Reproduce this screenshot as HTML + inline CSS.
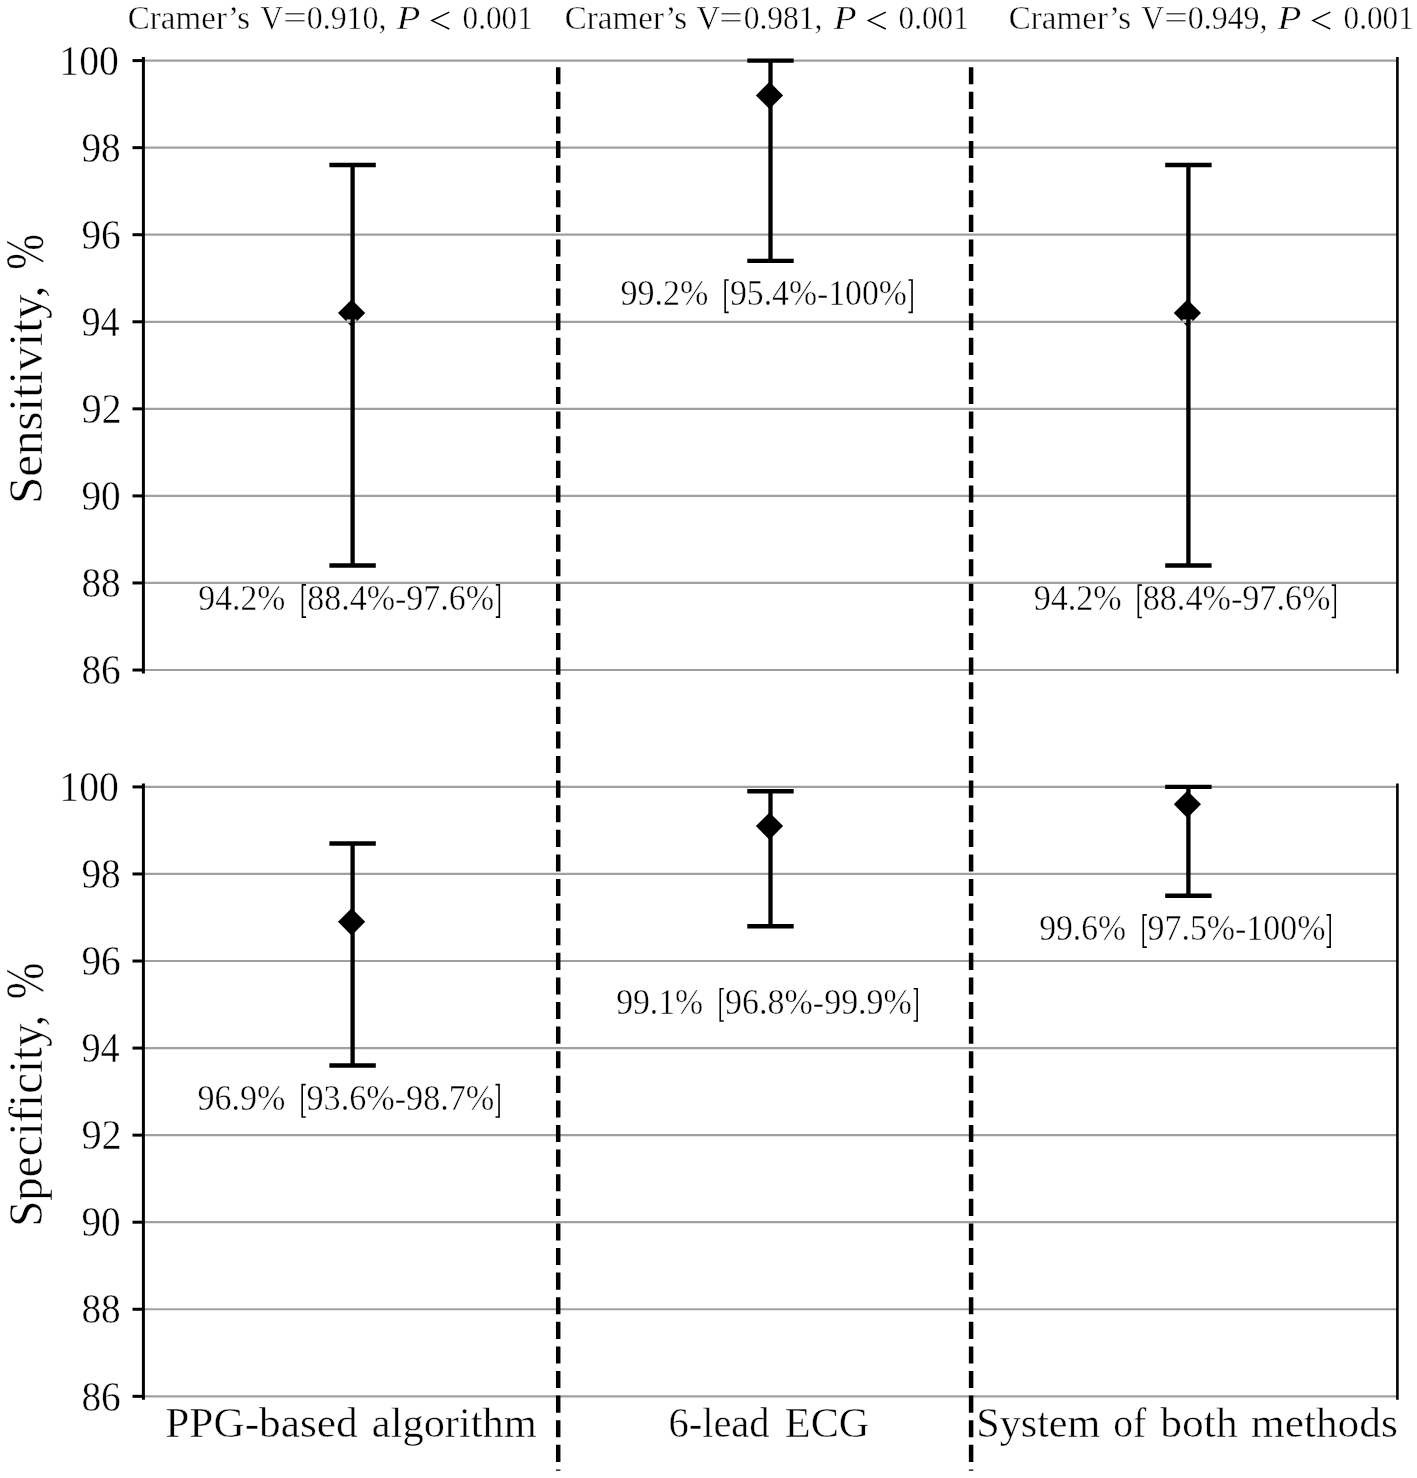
<!DOCTYPE html>
<html><head><meta charset="utf-8"><title>Chart</title>
<style>html,body{margin:0;padding:0;background:#fff;width:1417px;height:1478px;overflow:hidden}svg{display:block;will-change:transform}</style>
</head><body>
<svg width="1417" height="1478" viewBox="0 0 1417 1478">
<rect width="1417" height="1478" fill="#fff"/>
<path d="M338.00,313.07 L351.60,299.47 L365.20,313.07 L351.60,326.67 Z" fill="#000"/><path d="M755.90,95.42 L769.50,81.82 L783.10,95.42 L769.50,109.02 Z" fill="#000"/><path d="M1173.80,313.07 L1187.40,299.47 L1201.00,313.07 L1187.40,326.67 Z" fill="#000"/><path d="M338.00,921.84 L351.60,908.24 L365.20,921.84 L351.60,935.44 Z" fill="#000"/><path d="M755.90,826.08 L769.50,812.48 L783.10,826.08 L769.50,839.68 Z" fill="#000"/><path d="M1173.80,804.31 L1187.40,790.71 L1201.00,804.31 L1187.40,817.91 Z" fill="#000"/>
<line x1="346.71" y1="320.78" x2="356.49" y2="320.78" stroke="#fff" stroke-width="2.6" /><line x1="1182.51" y1="320.78" x2="1192.29" y2="320.78" stroke="#fff" stroke-width="2.6" />
<line x1="143.40" y1="670.02" x2="1397.40" y2="670.02" stroke="#a0a0a0" stroke-width="2.2" /><line x1="143.40" y1="582.96" x2="1397.40" y2="582.96" stroke="#a0a0a0" stroke-width="2.2" /><line x1="143.40" y1="495.90" x2="1397.40" y2="495.90" stroke="#a0a0a0" stroke-width="2.2" /><line x1="143.40" y1="408.84" x2="1397.40" y2="408.84" stroke="#a0a0a0" stroke-width="2.2" /><line x1="143.40" y1="321.78" x2="1397.40" y2="321.78" stroke="#a0a0a0" stroke-width="2.2" /><line x1="143.40" y1="234.72" x2="1397.40" y2="234.72" stroke="#a0a0a0" stroke-width="2.2" /><line x1="143.40" y1="147.66" x2="1397.40" y2="147.66" stroke="#a0a0a0" stroke-width="2.2" /><line x1="143.40" y1="60.60" x2="1397.40" y2="60.60" stroke="#a0a0a0" stroke-width="2.2" /><line x1="143.40" y1="1396.32" x2="1397.40" y2="1396.32" stroke="#a0a0a0" stroke-width="2.2" /><line x1="143.40" y1="1309.26" x2="1397.40" y2="1309.26" stroke="#a0a0a0" stroke-width="2.2" /><line x1="143.40" y1="1222.20" x2="1397.40" y2="1222.20" stroke="#a0a0a0" stroke-width="2.2" /><line x1="143.40" y1="1135.14" x2="1397.40" y2="1135.14" stroke="#a0a0a0" stroke-width="2.2" /><line x1="143.40" y1="1048.08" x2="1397.40" y2="1048.08" stroke="#a0a0a0" stroke-width="2.2" /><line x1="143.40" y1="961.02" x2="1397.40" y2="961.02" stroke="#a0a0a0" stroke-width="2.2" /><line x1="143.40" y1="873.96" x2="1397.40" y2="873.96" stroke="#a0a0a0" stroke-width="2.2" /><line x1="143.40" y1="786.90" x2="1397.40" y2="786.90" stroke="#a0a0a0" stroke-width="2.2" />
<line x1="352.60" y1="165.07" x2="352.60" y2="565.55" stroke="#000" stroke-width="4.3" /><line x1="329.40" y1="165.07" x2="375.80" y2="165.07" stroke="#000" stroke-width="4.4" /><line x1="329.40" y1="565.55" x2="375.80" y2="565.55" stroke="#000" stroke-width="4.4" /><line x1="770.50" y1="60.60" x2="770.50" y2="260.84" stroke="#000" stroke-width="4.3" /><line x1="747.30" y1="60.60" x2="793.70" y2="60.60" stroke="#000" stroke-width="4.4" /><line x1="747.30" y1="260.84" x2="793.70" y2="260.84" stroke="#000" stroke-width="4.4" /><line x1="1188.40" y1="165.07" x2="1188.40" y2="565.55" stroke="#000" stroke-width="4.3" /><line x1="1165.20" y1="165.07" x2="1211.60" y2="165.07" stroke="#000" stroke-width="4.4" /><line x1="1165.20" y1="565.55" x2="1211.60" y2="565.55" stroke="#000" stroke-width="4.4" /><line x1="352.60" y1="843.49" x2="352.60" y2="1065.49" stroke="#000" stroke-width="4.3" /><line x1="329.40" y1="843.49" x2="375.80" y2="843.49" stroke="#000" stroke-width="4.4" /><line x1="329.40" y1="1065.49" x2="375.80" y2="1065.49" stroke="#000" stroke-width="4.4" /><line x1="770.50" y1="791.25" x2="770.50" y2="926.20" stroke="#000" stroke-width="4.3" /><line x1="747.30" y1="791.25" x2="793.70" y2="791.25" stroke="#000" stroke-width="4.4" /><line x1="747.30" y1="926.20" x2="793.70" y2="926.20" stroke="#000" stroke-width="4.4" /><line x1="1188.40" y1="786.90" x2="1188.40" y2="895.73" stroke="#000" stroke-width="4.3" /><line x1="1165.20" y1="786.90" x2="1211.60" y2="786.90" stroke="#000" stroke-width="4.4" /><line x1="1165.20" y1="895.73" x2="1211.60" y2="895.73" stroke="#000" stroke-width="4.4" />
<line x1="143.40" y1="57.00" x2="143.40" y2="673.60" stroke="#000" stroke-width="3" /><line x1="1397.40" y1="57.00" x2="1397.40" y2="673.60" stroke="#000" stroke-width="2.6" /><line x1="143.40" y1="783.40" x2="143.40" y2="1399.70" stroke="#000" stroke-width="3" /><line x1="1397.40" y1="783.40" x2="1397.40" y2="1399.70" stroke="#000" stroke-width="2.6" /><line x1="132.50" y1="670.02" x2="143.40" y2="670.02" stroke="#000" stroke-width="3" /><line x1="132.50" y1="582.96" x2="143.40" y2="582.96" stroke="#000" stroke-width="3" /><line x1="132.50" y1="495.90" x2="143.40" y2="495.90" stroke="#000" stroke-width="3" /><line x1="132.50" y1="408.84" x2="143.40" y2="408.84" stroke="#000" stroke-width="3" /><line x1="132.50" y1="321.78" x2="143.40" y2="321.78" stroke="#000" stroke-width="3" /><line x1="132.50" y1="234.72" x2="143.40" y2="234.72" stroke="#000" stroke-width="3" /><line x1="132.50" y1="147.66" x2="143.40" y2="147.66" stroke="#000" stroke-width="3" /><line x1="132.50" y1="60.60" x2="143.40" y2="60.60" stroke="#000" stroke-width="3" /><line x1="132.50" y1="1396.32" x2="143.40" y2="1396.32" stroke="#000" stroke-width="3" /><line x1="132.50" y1="1309.26" x2="143.40" y2="1309.26" stroke="#000" stroke-width="3" /><line x1="132.50" y1="1222.20" x2="143.40" y2="1222.20" stroke="#000" stroke-width="3" /><line x1="132.50" y1="1135.14" x2="143.40" y2="1135.14" stroke="#000" stroke-width="3" /><line x1="132.50" y1="1048.08" x2="143.40" y2="1048.08" stroke="#000" stroke-width="3" /><line x1="132.50" y1="961.02" x2="143.40" y2="961.02" stroke="#000" stroke-width="3" /><line x1="132.50" y1="873.96" x2="143.40" y2="873.96" stroke="#000" stroke-width="3" /><line x1="132.50" y1="786.90" x2="143.40" y2="786.90" stroke="#000" stroke-width="3" />
<line x1="558.20" y1="67.20" x2="558.20" y2="1470.70" stroke="#000" stroke-width="4.5" stroke-dasharray="17.1 7.5"/><line x1="971.10" y1="67.20" x2="971.10" y2="1470.70" stroke="#000" stroke-width="4.5" stroke-dasharray="17.1 7.5"/>
<g font-family="Liberation Serif, serif" fill="#000" stroke="#fff" stroke-width="0.45">
<text x="189.00" y="29.20" font-size="34" text-anchor="middle" textLength="122.32" lengthAdjust="spacingAndGlyphs">Cramer’s</text><text x="271.70" y="29.20" font-size="34" text-anchor="middle" textLength="22.53" lengthAdjust="spacingAndGlyphs">V</text><text x="295.10" y="29.20" font-size="34" text-anchor="middle" textLength="24.01" lengthAdjust="spacingAndGlyphs">=</text><text x="346.60" y="29.20" font-size="34" text-anchor="middle" textLength="79.76" lengthAdjust="spacingAndGlyphs">0.910,</text><text x="408.60" y="29.20" font-size="34" text-anchor="middle" font-style="italic" textLength="23.92" lengthAdjust="spacingAndGlyphs">P</text><text x="497.70" y="29.20" font-size="34" text-anchor="middle" textLength="70.21" lengthAdjust="spacingAndGlyphs">0.001</text><text x="626.00" y="29.20" font-size="34" text-anchor="middle" textLength="122.34" lengthAdjust="spacingAndGlyphs">Cramer’s</text><text x="708.20" y="29.20" font-size="34" text-anchor="middle" textLength="23.56" lengthAdjust="spacingAndGlyphs">V</text><text x="731.10" y="29.20" font-size="34" text-anchor="middle" textLength="24.01" lengthAdjust="spacingAndGlyphs">=</text><text x="783.10" y="29.20" font-size="34" text-anchor="middle" textLength="78.79" lengthAdjust="spacingAndGlyphs">0.981,</text><text x="845.10" y="29.20" font-size="34" text-anchor="middle" font-style="italic" textLength="22.88" lengthAdjust="spacingAndGlyphs">P</text><text x="933.70" y="29.20" font-size="34" text-anchor="middle" textLength="70.21" lengthAdjust="spacingAndGlyphs">0.001</text><text x="1070.00" y="29.20" font-size="34" text-anchor="middle" textLength="122.32" lengthAdjust="spacingAndGlyphs">Cramer’s</text><text x="1152.70" y="29.20" font-size="34" text-anchor="middle" textLength="22.53" lengthAdjust="spacingAndGlyphs">V</text><text x="1176.10" y="29.20" font-size="34" text-anchor="middle" textLength="24.01" lengthAdjust="spacingAndGlyphs">=</text><text x="1227.60" y="29.20" font-size="34" text-anchor="middle" textLength="79.76" lengthAdjust="spacingAndGlyphs">0.949,</text><text x="1289.60" y="29.20" font-size="34" text-anchor="middle" font-style="italic" textLength="23.92" lengthAdjust="spacingAndGlyphs">P</text><text x="1378.70" y="29.20" font-size="34" text-anchor="middle" textLength="70.21" lengthAdjust="spacingAndGlyphs">0.001</text><text x="101.10" y="684.22" font-size="41.5" text-anchor="middle" textLength="39.38" lengthAdjust="spacingAndGlyphs">86</text><text x="101.10" y="597.16" font-size="41.5" text-anchor="middle" textLength="39.33" lengthAdjust="spacingAndGlyphs">88</text><text x="101.10" y="510.10" font-size="41.5" text-anchor="middle" textLength="39.33" lengthAdjust="spacingAndGlyphs">90</text><text x="101.60" y="423.04" font-size="41.5" text-anchor="middle" textLength="40.39" lengthAdjust="spacingAndGlyphs">92</text><text x="100.60" y="335.98" font-size="41.5" text-anchor="middle" textLength="38.32" lengthAdjust="spacingAndGlyphs">94</text><text x="101.10" y="248.92" font-size="41.5" text-anchor="middle" textLength="39.38" lengthAdjust="spacingAndGlyphs">96</text><text x="101.10" y="161.86" font-size="41.5" text-anchor="middle" textLength="39.33" lengthAdjust="spacingAndGlyphs">98</text><text x="89.10" y="74.80" font-size="41.5" text-anchor="middle" textLength="59.53" lengthAdjust="spacingAndGlyphs">100</text><text x="101.10" y="1410.52" font-size="41.5" text-anchor="middle" textLength="39.38" lengthAdjust="spacingAndGlyphs">86</text><text x="101.10" y="1323.46" font-size="41.5" text-anchor="middle" textLength="39.33" lengthAdjust="spacingAndGlyphs">88</text><text x="101.10" y="1236.40" font-size="41.5" text-anchor="middle" textLength="39.33" lengthAdjust="spacingAndGlyphs">90</text><text x="101.60" y="1149.34" font-size="41.5" text-anchor="middle" textLength="40.39" lengthAdjust="spacingAndGlyphs">92</text><text x="100.60" y="1062.28" font-size="41.5" text-anchor="middle" textLength="38.32" lengthAdjust="spacingAndGlyphs">94</text><text x="101.10" y="975.22" font-size="41.5" text-anchor="middle" textLength="39.38" lengthAdjust="spacingAndGlyphs">96</text><text x="101.10" y="888.16" font-size="41.5" text-anchor="middle" textLength="39.33" lengthAdjust="spacingAndGlyphs">98</text><text x="89.10" y="801.10" font-size="41.5" text-anchor="middle" textLength="59.53" lengthAdjust="spacingAndGlyphs">100</text><text x="0" y="0" font-size="48.5" text-anchor="middle" textLength="218.55" lengthAdjust="spacingAndGlyphs" transform="translate(42.00,394.80) rotate(-90)">Sensitivity,</text><text x="0" y="0" font-size="55" text-anchor="middle" textLength="35.74" lengthAdjust="spacingAndGlyphs" transform="translate(43.30,251.90) rotate(-90)">%</text><text x="0" y="0" font-size="48.5" text-anchor="middle" textLength="211.87" lengthAdjust="spacingAndGlyphs" transform="translate(42.00,1120.80) rotate(-90)">Specificity,</text><text x="0" y="0" font-size="55" text-anchor="middle" textLength="36.57" lengthAdjust="spacingAndGlyphs" transform="translate(43.30,981.00) rotate(-90)">%</text><text x="261.50" y="1437.00" font-size="41.5" text-anchor="middle" textLength="192.52" lengthAdjust="spacingAndGlyphs">PPG-based</text><text x="454.30" y="1437.00" font-size="41.5" text-anchor="middle" textLength="164.91" lengthAdjust="spacingAndGlyphs">algorithm</text><text x="719.00" y="1437.00" font-size="41.5" text-anchor="middle" textLength="101.20" lengthAdjust="spacingAndGlyphs">6-lead</text><text x="827.10" y="1437.00" font-size="41.5" text-anchor="middle" textLength="84.54" lengthAdjust="spacingAndGlyphs">ECG</text><text x="1038.30" y="1437.00" font-size="41.5" text-anchor="middle" textLength="124.28" lengthAdjust="spacingAndGlyphs">System</text><text x="1129.70" y="1437.00" font-size="41.5" text-anchor="middle" textLength="33.02" lengthAdjust="spacingAndGlyphs">of</text><text x="1199.00" y="1437.00" font-size="41.5" text-anchor="middle" textLength="77.33" lengthAdjust="spacingAndGlyphs">both</text><text x="1324.40" y="1437.00" font-size="41.5" text-anchor="middle" textLength="146.72" lengthAdjust="spacingAndGlyphs">methods</text><text x="241.80" y="610.10" font-size="36" text-anchor="middle" textLength="86.88" lengthAdjust="spacingAndGlyphs">94.2%</text><text x="400.70" y="610.10" font-size="36" text-anchor="middle" textLength="186.86" lengthAdjust="spacingAndGlyphs">88.4%-97.6%</text><text x="664.50" y="305.30" font-size="36" text-anchor="middle" textLength="87.91" lengthAdjust="spacingAndGlyphs">99.2%</text><text x="818.40" y="305.30" font-size="36" text-anchor="middle" textLength="176.84" lengthAdjust="spacingAndGlyphs">95.4%-100%</text><text x="1077.70" y="610.40" font-size="36" text-anchor="middle" textLength="87.90" lengthAdjust="spacingAndGlyphs">94.2%</text><text x="1236.60" y="610.40" font-size="36" text-anchor="middle" textLength="187.82" lengthAdjust="spacingAndGlyphs">88.4%-97.6%</text><text x="241.50" y="1109.90" font-size="36" text-anchor="middle" textLength="87.91" lengthAdjust="spacingAndGlyphs">96.9%</text><text x="400.40" y="1109.90" font-size="36" text-anchor="middle" textLength="187.82" lengthAdjust="spacingAndGlyphs">93.6%-98.7%</text><text x="659.60" y="1014.00" font-size="36" text-anchor="middle" textLength="86.89" lengthAdjust="spacingAndGlyphs">99.1%</text><text x="818.50" y="1014.00" font-size="36" text-anchor="middle" textLength="186.80" lengthAdjust="spacingAndGlyphs">96.8%-99.9%</text><text x="1082.60" y="940.10" font-size="36" text-anchor="middle" textLength="86.89" lengthAdjust="spacingAndGlyphs">99.6%</text><text x="1236.50" y="940.10" font-size="36" text-anchor="middle" textLength="177.86" lengthAdjust="spacingAndGlyphs">97.5%-100%</text><path d="M449.30,12.2 L431.90,20.6 L449.30,29.0" fill="none" stroke="#000" stroke-width="1.45" stroke-linejoin="miter" stroke-miterlimit="10"/><path d="M885.80,12.2 L868.40,20.6 L885.80,29.0" fill="none" stroke="#000" stroke-width="1.45" stroke-linejoin="miter" stroke-miterlimit="10"/><path d="M1330.30,12.2 L1312.90,20.6 L1330.30,29.0" fill="none" stroke="#000" stroke-width="1.45" stroke-linejoin="miter" stroke-miterlimit="10"/><path d="M306.00,584.85 H302.45 V617.15 H306.00" fill="none" stroke="#000" stroke-width="1.6" stroke-linejoin="miter"/><path d="M495.80,584.85 H499.35 V617.15 H495.80" fill="none" stroke="#000" stroke-width="1.6" stroke-linejoin="miter"/><path d="M728.70,280.05 H725.15 V312.35 H728.70" fill="none" stroke="#000" stroke-width="1.6" stroke-linejoin="miter"/><path d="M908.50,280.05 H912.05 V312.35 H908.50" fill="none" stroke="#000" stroke-width="1.6" stroke-linejoin="miter"/><path d="M1141.90,585.15 H1138.35 V617.45 H1141.90" fill="none" stroke="#000" stroke-width="1.6" stroke-linejoin="miter"/><path d="M1331.70,585.15 H1335.25 V617.45 H1331.70" fill="none" stroke="#000" stroke-width="1.6" stroke-linejoin="miter"/><path d="M305.70,1084.65 H302.15 V1116.95 H305.70" fill="none" stroke="#000" stroke-width="1.6" stroke-linejoin="miter"/><path d="M495.50,1084.65 H499.05 V1116.95 H495.50" fill="none" stroke="#000" stroke-width="1.6" stroke-linejoin="miter"/><path d="M723.80,988.75 H720.25 V1021.05 H723.80" fill="none" stroke="#000" stroke-width="1.6" stroke-linejoin="miter"/><path d="M913.60,988.75 H917.15 V1021.05 H913.60" fill="none" stroke="#000" stroke-width="1.6" stroke-linejoin="miter"/><path d="M1146.80,914.85 H1143.25 V947.15 H1146.80" fill="none" stroke="#000" stroke-width="1.6" stroke-linejoin="miter"/><path d="M1326.60,914.85 H1330.15 V947.15 H1326.60" fill="none" stroke="#000" stroke-width="1.6" stroke-linejoin="miter"/>
</g>
</svg>
</body></html>
